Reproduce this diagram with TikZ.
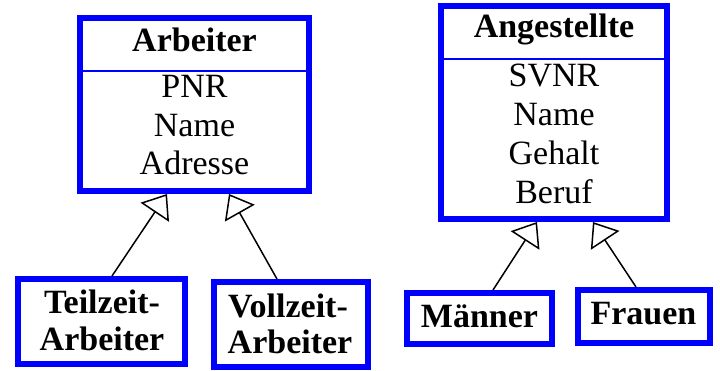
\documentclass[tikz,border=0pt]{standalone}
\usepackage{fontspec}
\setmainfont{Liberation Serif}
\usetikzlibrary{arrows.meta,calc}
\definecolor{boxblue}{RGB}{0,0,255}
\tikzset{
  classbox/.style={draw=boxblue, line width=6pt, rectangle, inner sep=0pt, outer sep=3pt},
  title/.style={anchor=base, inner sep=0pt, font=\fontsize{34}{37}\selectfont\bfseries},
  attr/.style={anchor=base, inner sep=0pt, font=\fontsize{34}{37}\selectfont},
  sepline/.style={draw=boxblue, line width=1.8pt},
  gen/.style={draw=black, line width=1.5pt, -{Triangle[open, length=22pt, width=34pt, line width=1.5pt]}}
}
\begin{document}
\begin{tikzpicture}[x=1pt,y=-1pt]
\useasboundingbox (0,0) rectangle (720,371);
% Arbeiter class
\node[classbox, minimum width=229pt, minimum height=173pt] (arb) at (194.5,104.5) {};
\draw[sepline] (arb.west |- 0,71) coordinate (arbsepL) -- (arb.east |- 0,71) coordinate (arbsepR);
\node[title] (arbt) at (194.5,52) {Arbeiter};
\node[attr] (arb1) at (194.5,98) {PNR};
\node[attr] (arb2) at (194.5,137) {Name};
\node[attr] (arb3) at (194.5,175) {Adresse};
% Angestellte class
\node[classbox, minimum width=226pt, minimum height=213pt] (ang) at (554,112.5) {};
\draw[sepline] (ang.west |- 0,59) coordinate (angsepL) -- (ang.east |- 0,59) coordinate (angsepR);
\node[title] (angt) at (554,38) {Angestellte};
\node[attr] (ang1) at (554,87) {SVNR};
\node[attr] (ang2) at (554,126) {Name};
\node[attr] (ang3) at (554,165) {Gehalt};
\node[attr] (ang4) at (554,204) {Beruf};
% subclasses
\node[classbox, minimum width=167pt, minimum height=85pt] (teil) at (101.5,321.5) {};
\node[title] (teil1) at (102,313) {Teilzeit-};
\node[title] (teil2) at (102,350) {Arbeiter};
\node[classbox, minimum width=154pt, minimum height=85pt] (voll) at (291,324.5) {};
\node[title] (voll1) at (288,317) {Vollzeit-};
\node[title] (voll2) at (290,353) {Arbeiter};
\node[classbox, minimum width=145pt, minimum height=51pt] (maen) at (479.5,318.5) {};
\node[title] (maent) at (479.5,327) {Männer};
\node[classbox, minimum width=132pt, minimum height=53pt] (frau) at (644,316.5) {};
\node[title] (raut) at (643.5,324) {Frauen};
% generalisation arrows
\draw[gen] ($(teil.north)+(10.5,0)$) -- ($(arb.south)+(-27.5,0)$);
\draw[gen] ($(voll.north)+(-14,0)$) -- ($(arb.south)+(34.5,0)$);
\draw[gen] ($(maen.north)+(13.5,0)$) -- ($(ang.south)+(-17,0)$);
\draw[gen] ($(frau.north)+(-8,0)$) -- ($(ang.south)+(39,0)$);
\end{tikzpicture}
\end{document}
